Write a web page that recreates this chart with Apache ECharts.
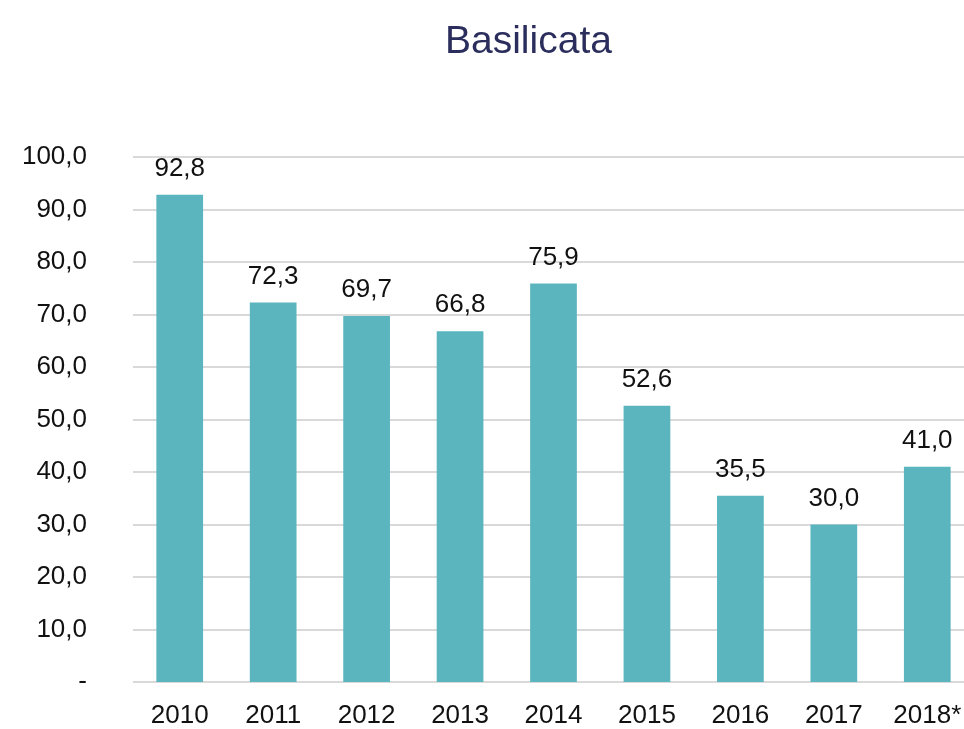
<!DOCTYPE html>
<html>
<head>
<meta charset="utf-8">
<script src="https://cdn.jsdelivr.net/npm/echarts@6/dist/echarts.min.js"></script>
<style>
html,body{margin:0;padding:0;background:#fff;overflow:hidden;}
/* the original plot runs a little past the right edge, so the canvas is wider than the window */
#main{width:975px;height:729px;}
</style>
</head>
<body>
<div id="main"></div>
<script>
var anni = ["2010","2011","2012","2013","2014","2015","2016","2017","2018*"];
var valori = [92.8,72.3,69.7,66.8,75.9,52.6,35.5,30.0,41.0];

var fmt = function(v){
  if(v==0) return "-";
  return v.toFixed(1).replace(".",",");
}
var font = 'Liberation Sans';

var myChart = echarts.init(document.getElementById('main'));
var options = {
  animation:false,
  title:{
    text:'Basilicata',
    left:440,
    top:18,
    textStyle:{color:'#2b2e5c',fontSize:39,fontWeight:'normal',fontFamily:font}
  },
  grid:{left:133,right:1,top:157,bottom:47},
  xAxis:{
    type:'category',
    data:anni,
    axisLine:{show:false},
    axisTick:{show:false},
    axisLabel:{color:'#111',fontSize:26,margin:21,fontFamily:font,interval:0}
  },
  yAxis:{
    type:'value',
    min:0,max:100,interval:10,
    axisLine:{show:false},
    axisTick:{show:false},
    axisLabel:{color:'#111',fontSize:26,margin:46,fontFamily:font,formatter:fmt},
    splitLine:{lineStyle:{color:'#d9d9d9',width:2}}
  },
  series:[{
    type:'bar',
    data:valori,
    barWidth:'50%',
    itemStyle:{color:'#5ab5bf'},
    label:{show:true,position:'top',distance:13,color:'#111',fontSize:26,fontFamily:font,
      formatter:function(p){return fmt(p.value);}}
  }]
};
myChart.setOption(options);
</script>
</body>
</html>
